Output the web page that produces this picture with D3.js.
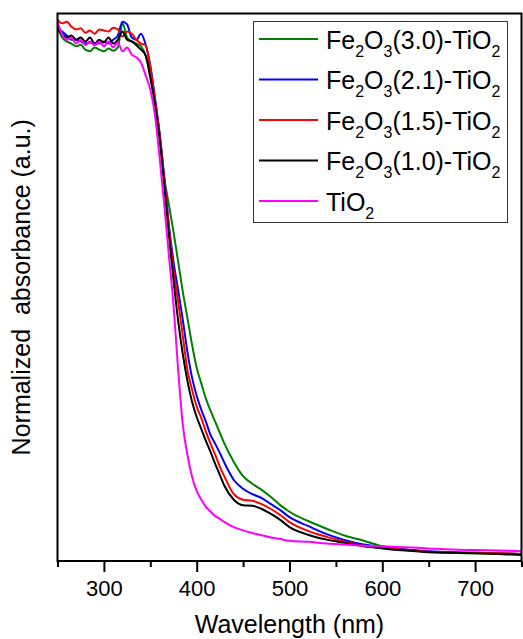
<!DOCTYPE html>
<html>
<head>
<meta charset="utf-8">
<script src="https://cdn.jsdelivr.net/npm/d3@7"></script>
<style>
  html, body { margin: 0; padding: 0; background: #fff; }
  svg { display: block; font-family: "Liberation Sans", Arial, sans-serif; }
</style>
</head>
<body>
<svg id="chart" width="523" height="639"></svg>
<script>
// Wavelength grid (nm) shared by all spectra
const wavelengths = [
  250,255,260,265,270,275,280,285,290,295,300,305,310,315,320,325,330,335,340,345,
  350,355,360,365,370,375,380,385,390,395,400,405,410,415,420,425,430,
  440,450,460,470,480,490,500,
  520,540,560,580,600,
  625,650,675,700,725,750
];

// Normalized absorbance for each sample
const fe30 = [
  0.976,0.956,0.949,0.945,0.940,0.943,0.934,0.931,0.938,0.934,0.931,0.936,0.932,0.938,0.982,0.956,0.949,0.945,0.940,0.923,
  0.889,0.839,0.779,0.700,0.651,0.601,0.547,0.492,0.444,0.395,0.353,0.324,0.296,0.274,0.254,0.234,0.214,
  0.181,0.155,0.141,0.130,0.117,0.102,0.090,
  0.073,0.059,0.046,0.037,0.027,
  0.021,0.017,0.015,0.014,0.013,0.012
];
const fe21 = [
  0.974,0.967,0.960,0.952,0.952,0.949,0.945,0.947,0.945,0.945,0.949,0.945,0.952,0.960,0.985,0.980,0.956,0.952,0.963,0.943,
  0.905,0.846,0.782,0.702,0.614,0.547,0.495,0.441,0.382,0.335,0.302,0.276,0.254,0.230,0.214,0.197,0.179,
  0.148,0.132,0.122,0.115,0.104,0.093,0.080,
  0.064,0.049,0.038,0.030,0.026,
  0.021,0.018,0.016,0.015,0.014,0.013
];
const fe15 = [
  0.989,0.982,0.985,0.976,0.971,0.973,0.965,0.969,0.963,0.971,0.969,0.967,0.974,0.971,0.958,0.967,0.963,0.952,0.945,0.942,
  0.901,0.843,0.779,0.697,0.609,0.532,0.474,0.411,0.349,0.313,0.282,0.261,0.236,0.214,0.194,0.172,0.154,
  0.122,0.112,0.110,0.104,0.095,0.084,0.071,
  0.055,0.044,0.035,0.028,0.024,
  0.020,0.017,0.016,0.015,0.014,0.013
];
const fe10 = [
  0.971,0.963,0.956,0.960,0.952,0.956,0.949,0.956,0.945,0.952,0.947,0.956,0.945,0.952,0.967,0.952,0.949,0.942,0.934,0.923,
  0.883,0.834,0.770,0.687,0.596,0.514,0.439,0.378,0.329,0.291,0.263,0.241,0.219,0.199,0.177,0.157,0.137,
  0.112,0.102,0.101,0.095,0.086,0.075,0.062,
  0.048,0.039,0.033,0.027,0.023,
  0.019,0.016,0.015,0.014,0.013,0.011
];
const tio2 = [
  0.985,0.962,0.952,0.956,0.945,0.952,0.942,0.949,0.942,0.949,0.940,0.949,0.938,0.947,0.931,0.938,0.925,0.920,0.910,0.887,
  0.861,0.815,0.737,0.651,0.559,0.468,0.349,0.249,0.194,0.154,0.128,0.112,0.099,0.090,0.082,0.077,0.071,
  0.062,0.056,0.051,0.047,0.043,0.040,0.037,
  0.035,0.032,0.030,0.028,0.027,
  0.025,0.023,0.021,0.020,0.019,0.018
];

// Legend labels ("_d" marks a subscript digit) and line colours
const seriesLabels = ["Fe_2O_3(3.0)-TiO_2", "Fe_2O_3(2.1)-TiO_2", "Fe_2O_3(1.5)-TiO_2", "Fe_2O_3(1.0)-TiO_2", "TiO_2"];
const seriesColors = ["#008000", "#0000ff", "#ff0000", "#000000", "#ff00ff"];
const seriesValues = [fe30, fe21, fe15, fe10, tio2];

// Axis ticks
const majorTicks = [300, 400, 500, 600, 700];
const minorTicks = [250, 350, 450, 550, 650, 750];

const svg = d3.select("#chart");
const plot = { left: 57.5, right: 521.5, top: 13.5, bottom: 561 };

const x = d3.scaleLinear().domain([250, 750]).range([plot.left, plot.right]);
const y = d3.scaleLinear().domain([0, 1]).range([plot.bottom, plot.top]);

svg.append("defs").append("clipPath").attr("id", "plotClip")
  .append("rect")
  .attr("x", plot.left).attr("y", plot.top)
  .attr("width", plot.right - plot.left).attr("height", plot.bottom - plot.top);

// Spectra (drawn so that TiO2 ends up on top)
const line = d3.line()
  .x((d, i) => x(wavelengths[i]))
  .y(d => y(d))
  .curve(d3.curveMonotoneX);

const curves = svg.append("g").attr("clip-path", "url(#plotClip)");
seriesValues.forEach((vals, k) => {
  curves.append("path")
    .datum(vals)
    .attr("d", line)
    .attr("fill", "none")
    .attr("stroke", seriesColors[k])
    .attr("stroke-width", 2)
    .attr("stroke-linejoin", "round");
});

// Frame
svg.append("rect")
  .attr("x", plot.left).attr("y", plot.top)
  .attr("width", plot.right - plot.left).attr("height", plot.bottom - plot.top)
  .attr("fill", "none").attr("stroke", "#000").attr("stroke-width", 2);

// Bottom axis
const xAxisMajor = d3.axisBottom(x).tickValues(majorTicks).tickSize(11).tickPadding(8).tickFormat(d3.format("d"));
const xAxisMinor = d3.axisBottom(x).tickValues(minorTicks).tickSize(6).tickFormat("");

const gMinor = svg.append("g").attr("transform", `translate(0,${plot.bottom})`).call(xAxisMinor);
const gMajor = svg.append("g").attr("transform", `translate(0,${plot.bottom})`).call(xAxisMajor);
[gMinor, gMajor].forEach(g => {
  g.select(".domain").remove();
  g.selectAll(".tick line").attr("stroke", "#000").attr("stroke-width", 2);
});
gMajor.selectAll(".tick text")
  .attr("fill", "#000")
  .style("font-size", "22px")
  .style("font-family", "\"Liberation Sans\", Arial, sans-serif");

// Axis titles
svg.append("text")
  .attr("x", (plot.left + plot.right) / 2)
  .attr("y", 633)
  .attr("text-anchor", "middle")
  .style("font-size", "25px")
  .text("Wavelength (nm)");

svg.append("text")
  .attr("transform", `translate(30,${(plot.top + plot.bottom) / 2 + 0}) rotate(-90)`)
  .attr("text-anchor", "middle")
  .style("font-size", "25px")
  .style("white-space", "pre")
  .attr("xml:space", "preserve")
  .text("Normalized  absorbance (a.u.)");

// Legend
const legend = svg.append("g");
legend.append("rect")
  .attr("x", 253.5).attr("y", 21.5)
  .attr("width", 254).attr("height", 201)
  .attr("fill", "#fff").attr("stroke", "#333").attr("stroke-width", 1);

seriesLabels.forEach((label, k) => {
  const cy = 39 + k * 40.5;
  legend.append("line")
    .attr("x1", 259).attr("x2", 318)
    .attr("y1", cy).attr("y2", cy)
    .attr("stroke", seriesColors[k]).attr("stroke-width", 2);

  const t = legend.append("text")
    .attr("x", 326).attr("y", cy + 9.5)
    .style("font-size", "25px");
  // split label into normal text and subscript digits
  const parts = label.split(/_(\d)/);
  let sub = false;
  parts.forEach((p, i) => {
    if (p === "") return;
    const isSub = i % 2 === 1;
    const ts = t.append("tspan").text(p);
    if (isSub) {
      ts.style("font-size", "16px").attr("dy", sub ? 0 : 8);
      sub = true;
    } else {
      if (sub) ts.attr("dy", -8);
      sub = false;
    }
  });
});
</script>
</body>
</html>
